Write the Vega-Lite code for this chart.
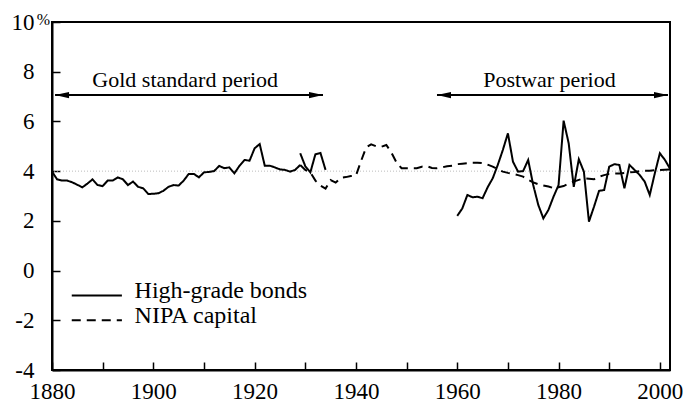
{
  "$schema": "https://vega.github.io/schema/vega-lite/v6.json",
  "width": 618,
  "height": 348,
  "autosize": {"type": "none"},
  "padding": {"left": 52, "top": 22, "right": 16, "bottom": 32},
  "config": {
    "font": "Liberation Serif",
    "view": {"stroke": "black", "strokeWidth": 2},
    "axis": {
      "domainColor": "black", "domainWidth": 2, "tickColor": "black", "tickWidth": 1.5,
      "tickSize": -8, "labelColor": "black", "labelFont": "Liberation Serif", "labelFontSize": 23,
      "grid": false, "title": null
    }
  },
  "datasets": {
    "lines": [
      {"year":1880,"value":3.98,"series":"A","kind":"bonds"},{"year":1881,"value":3.67,"series":"A","kind":"bonds"},{"year":1882,"value":3.62,"series":"A","kind":"bonds"},{"year":1883,"value":3.62,"series":"A","kind":"bonds"},{"year":1884,"value":3.55,"series":"A","kind":"bonds"},{"year":1885,"value":3.45,"series":"A","kind":"bonds"},{"year":1886,"value":3.35,"series":"A","kind":"bonds"},{"year":1887,"value":3.5,"series":"A","kind":"bonds"},{"year":1888,"value":3.67,"series":"A","kind":"bonds"},{"year":1889,"value":3.44,"series":"A","kind":"bonds"},
      {"year":1890,"value":3.4,"series":"A","kind":"bonds"},{"year":1891,"value":3.62,"series":"A","kind":"bonds"},{"year":1892,"value":3.62,"series":"A","kind":"bonds"},{"year":1893,"value":3.75,"series":"A","kind":"bonds"},{"year":1894,"value":3.67,"series":"A","kind":"bonds"},{"year":1895,"value":3.44,"series":"A","kind":"bonds"},{"year":1896,"value":3.58,"series":"A","kind":"bonds"},{"year":1897,"value":3.37,"series":"A","kind":"bonds"},{"year":1898,"value":3.31,"series":"A","kind":"bonds"},{"year":1899,"value":3.08,"series":"A","kind":"bonds"},
      {"year":1900,"value":3.09,"series":"A","kind":"bonds"},{"year":1901,"value":3.11,"series":"A","kind":"bonds"},{"year":1902,"value":3.21,"series":"A","kind":"bonds"},{"year":1903,"value":3.37,"series":"A","kind":"bonds"},{"year":1904,"value":3.44,"series":"A","kind":"bonds"},{"year":1905,"value":3.42,"series":"A","kind":"bonds"},{"year":1906,"value":3.62,"series":"A","kind":"bonds"},{"year":1907,"value":3.89,"series":"A","kind":"bonds"},{"year":1908,"value":3.89,"series":"A","kind":"bonds"},{"year":1909,"value":3.75,"series":"A","kind":"bonds"},
      {"year":1910,"value":3.95,"series":"A","kind":"bonds"},{"year":1911,"value":3.97,"series":"A","kind":"bonds"},{"year":1912,"value":4.0,"series":"A","kind":"bonds"},{"year":1913,"value":4.21,"series":"A","kind":"bonds"},{"year":1914,"value":4.12,"series":"A","kind":"bonds"},{"year":1915,"value":4.15,"series":"A","kind":"bonds"},{"year":1916,"value":3.91,"series":"A","kind":"bonds"},{"year":1917,"value":4.21,"series":"A","kind":"bonds"},{"year":1918,"value":4.45,"series":"A","kind":"bonds"},{"year":1919,"value":4.42,"series":"A","kind":"bonds"},
      {"year":1920,"value":4.92,"series":"A","kind":"bonds"},{"year":1921,"value":5.09,"series":"A","kind":"bonds"},{"year":1922,"value":4.22,"series":"A","kind":"bonds"},{"year":1923,"value":4.22,"series":"A","kind":"bonds"},{"year":1924,"value":4.15,"series":"A","kind":"bonds"},{"year":1925,"value":4.07,"series":"A","kind":"bonds"},{"year":1926,"value":4.05,"series":"A","kind":"bonds"},{"year":1927,"value":3.98,"series":"A","kind":"bonds"},{"year":1928,"value":4.05,"series":"A","kind":"bonds"},{"year":1929,"value":4.25,"series":"A","kind":"bonds"},
      {"year":1929,"value":4.72,"series":"B","kind":"bonds"},{"year":1930,"value":4.2,"series":"B","kind":"bonds"},{"year":1931,"value":3.95,"series":"B","kind":"bonds"},{"year":1932,"value":4.68,"series":"B","kind":"bonds"},{"year":1933,"value":4.73,"series":"B","kind":"bonds"},{"year":1934,"value":4.05,"series":"B","kind":"bonds"},
      {"year":1960,"value":2.2,"series":"C","kind":"bonds"},{"year":1961,"value":2.5,"series":"C","kind":"bonds"},{"year":1962,"value":3.04,"series":"C","kind":"bonds"},{"year":1963,"value":2.95,"series":"C","kind":"bonds"},{"year":1964,"value":2.97,"series":"C","kind":"bonds"},{"year":1965,"value":2.91,"series":"C","kind":"bonds"},{"year":1966,"value":3.35,"series":"C","kind":"bonds"},{"year":1967,"value":3.71,"series":"C","kind":"bonds"},{"year":1968,"value":4.25,"series":"C","kind":"bonds"},{"year":1969,"value":4.85,"series":"C","kind":"bonds"},
      {"year":1970,"value":5.52,"series":"C","kind":"bonds"},{"year":1971,"value":4.38,"series":"C","kind":"bonds"},{"year":1972,"value":3.98,"series":"C","kind":"bonds"},{"year":1973,"value":4.0,"series":"C","kind":"bonds"},{"year":1974,"value":4.45,"series":"C","kind":"bonds"},{"year":1975,"value":3.44,"series":"C","kind":"bonds"},{"year":1976,"value":2.64,"series":"C","kind":"bonds"},{"year":1977,"value":2.1,"series":"C","kind":"bonds"},{"year":1978,"value":2.44,"series":"C","kind":"bonds"},{"year":1979,"value":2.97,"series":"C","kind":"bonds"},
      {"year":1980,"value":3.44,"series":"C","kind":"bonds"},{"year":1981,"value":6.03,"series":"C","kind":"bonds"},{"year":1982,"value":5.12,"series":"C","kind":"bonds"},{"year":1983,"value":3.37,"series":"C","kind":"bonds"},{"year":1984,"value":4.48,"series":"C","kind":"bonds"},{"year":1985,"value":3.98,"series":"C","kind":"bonds"},{"year":1986,"value":1.97,"series":"C","kind":"bonds"},{"year":1987,"value":2.57,"series":"C","kind":"bonds"},{"year":1988,"value":3.21,"series":"C","kind":"bonds"},{"year":1989,"value":3.24,"series":"C","kind":"bonds"},
      {"year":1990,"value":4.18,"series":"C","kind":"bonds"},{"year":1991,"value":4.28,"series":"C","kind":"bonds"},{"year":1992,"value":4.25,"series":"C","kind":"bonds"},{"year":1993,"value":3.31,"series":"C","kind":"bonds"},{"year":1994,"value":4.25,"series":"C","kind":"bonds"},{"year":1995,"value":4.05,"series":"C","kind":"bonds"},{"year":1996,"value":3.85,"series":"C","kind":"bonds"},{"year":1997,"value":3.58,"series":"C","kind":"bonds"},{"year":1998,"value":3.04,"series":"C","kind":"bonds"},{"year":1999,"value":3.91,"series":"C","kind":"bonds"},
      {"year":2000,"value":4.72,"series":"C","kind":"bonds"},{"year":2001,"value":4.45,"series":"C","kind":"bonds"},{"year":2002,"value":4.1,"series":"C","kind":"bonds"},
      {"year":1929,"value":4.25,"series":"N","kind":"nipa"},{"year":1930,"value":4.05,"series":"N","kind":"nipa"},{"year":1931,"value":3.95,"series":"N","kind":"nipa"},{"year":1932,"value":3.62,"series":"N","kind":"nipa"},{"year":1933,"value":3.42,"series":"N","kind":"nipa"},{"year":1934,"value":3.3,"series":"N","kind":"nipa"},{"year":1935,"value":3.64,"series":"N","kind":"nipa"},{"year":1936,"value":3.54,"series":"N","kind":"nipa"},{"year":1937,"value":3.73,"series":"N","kind":"nipa"},{"year":1938,"value":3.76,"series":"N","kind":"nipa"},{"year":1939,"value":3.8,"series":"N","kind":"nipa"},
      {"year":1940,"value":3.82,"series":"N","kind":"nipa"},{"year":1941,"value":4.4,"series":"N","kind":"nipa"},{"year":1942,"value":4.95,"series":"N","kind":"nipa"},{"year":1943,"value":5.08,"series":"N","kind":"nipa"},{"year":1944,"value":5.0,"series":"N","kind":"nipa"},{"year":1945,"value":4.98,"series":"N","kind":"nipa"},{"year":1946,"value":5.05,"series":"N","kind":"nipa"},{"year":1947,"value":4.75,"series":"N","kind":"nipa"},{"year":1948,"value":4.35,"series":"N","kind":"nipa"},{"year":1949,"value":4.12,"series":"N","kind":"nipa"},
      {"year":1950,"value":4.12,"series":"N","kind":"nipa"},{"year":1951,"value":4.12,"series":"N","kind":"nipa"},{"year":1952,"value":4.12,"series":"N","kind":"nipa"},{"year":1953,"value":4.18,"series":"N","kind":"nipa"},{"year":1954,"value":4.2,"series":"N","kind":"nipa"},{"year":1955,"value":4.13,"series":"N","kind":"nipa"},{"year":1956,"value":4.12,"series":"N","kind":"nipa"},{"year":1957,"value":4.15,"series":"N","kind":"nipa"},{"year":1958,"value":4.2,"series":"N","kind":"nipa"},{"year":1959,"value":4.22,"series":"N","kind":"nipa"},
      {"year":1960,"value":4.28,"series":"N","kind":"nipa"},{"year":1961,"value":4.3,"series":"N","kind":"nipa"},{"year":1962,"value":4.32,"series":"N","kind":"nipa"},{"year":1963,"value":4.34,"series":"N","kind":"nipa"},{"year":1964,"value":4.34,"series":"N","kind":"nipa"},{"year":1965,"value":4.32,"series":"N","kind":"nipa"},{"year":1966,"value":4.26,"series":"N","kind":"nipa"},{"year":1967,"value":4.18,"series":"N","kind":"nipa"},{"year":1968,"value":4.08,"series":"N","kind":"nipa"},{"year":1969,"value":3.98,"series":"N","kind":"nipa"},
      {"year":1970,"value":3.93,"series":"N","kind":"nipa"},{"year":1971,"value":3.89,"series":"N","kind":"nipa"},{"year":1972,"value":3.84,"series":"N","kind":"nipa"},{"year":1973,"value":3.78,"series":"N","kind":"nipa"},{"year":1974,"value":3.65,"series":"N","kind":"nipa"},{"year":1975,"value":3.55,"series":"N","kind":"nipa"},{"year":1976,"value":3.47,"series":"N","kind":"nipa"},{"year":1977,"value":3.42,"series":"N","kind":"nipa"},{"year":1978,"value":3.38,"series":"N","kind":"nipa"},{"year":1979,"value":3.32,"series":"N","kind":"nipa"},
      {"year":1980,"value":3.35,"series":"N","kind":"nipa"},{"year":1981,"value":3.4,"series":"N","kind":"nipa"},{"year":1982,"value":3.5,"series":"N","kind":"nipa"},{"year":1983,"value":3.58,"series":"N","kind":"nipa"},{"year":1984,"value":3.65,"series":"N","kind":"nipa"},{"year":1985,"value":3.71,"series":"N","kind":"nipa"},{"year":1986,"value":3.69,"series":"N","kind":"nipa"},{"year":1987,"value":3.67,"series":"N","kind":"nipa"},{"year":1988,"value":3.78,"series":"N","kind":"nipa"},{"year":1989,"value":3.84,"series":"N","kind":"nipa"},
      {"year":1990,"value":3.89,"series":"N","kind":"nipa"},{"year":1991,"value":3.9,"series":"N","kind":"nipa"},{"year":1992,"value":3.91,"series":"N","kind":"nipa"},{"year":1993,"value":3.93,"series":"N","kind":"nipa"},{"year":1994,"value":3.95,"series":"N","kind":"nipa"},{"year":1995,"value":3.97,"series":"N","kind":"nipa"},{"year":1996,"value":4.0,"series":"N","kind":"nipa"},{"year":1997,"value":4.01,"series":"N","kind":"nipa"},{"year":1998,"value":4.02,"series":"N","kind":"nipa"},{"year":1999,"value":4.04,"series":"N","kind":"nipa"},
      {"year":2000,"value":4.05,"series":"N","kind":"nipa"},{"year":2001,"value":4.06,"series":"N","kind":"nipa"},{"year":2002,"value":4.07,"series":"N","kind":"nipa"}
    ],
    "arrows": [
      {"x1": 1880.6, "x2": 1933.5, "y": 7.06, "label": "Gold standard period", "mid": 1906.3},
      {"x1": 1956.0, "x2": 2001.6, "y": 7.06, "label": "Postwar period", "mid": 1978.2}
    ],
    "legend": [
      {"x1": 1883.9, "x2": 1893.8, "tx": 1896.3, "y": -1, "label": "High-grade bonds", "kind": "bonds"},
      {"x1": 1883.9, "x2": 1893.8, "tx": 1896.3, "y": -2, "label": "NIPA capital", "kind": "nipa"}
    ],
    "ref": [{"y": 4}],
    "pct": [{"x": 1880, "y": 10, "t": "%"}]
  },
  "layer": [
    {
      "data": {"name": "ref"},
      "mark": {"type": "rule", "color": "#bdbdbd", "strokeWidth": 1, "strokeDash": [1, 2]},
      "encoding": {"y": {"field": "y", "type": "quantitative"}}
    },
    {
      "data": {"name": "lines"},
      "mark": {"type": "line", "color": "black", "strokeWidth": 2, "clip": true},
      "encoding": {
        "x": {
          "field": "year", "type": "quantitative",
          "scale": {"domain": [1880, 2002], "nice": false, "zero": false},
          "axis": {
            "values": [1880, 1890, 1900, 1910, 1920, 1930, 1940, 1950, 1960, 1970, 1980, 1990, 2000],
            "labelExpr": "datum.value % 20 == 0 ? '' + datum.value : ''",
            "labelPadding": 18, "labelFlush": false, "labelOverlap": false
          }
        },
        "y": {
          "field": "value", "type": "quantitative",
          "scale": {"domain": [-4, 10], "nice": false, "zero": false},
          "axis": {"values": [-4, -2, 0, 2, 4, 6, 8, 10], "labelExpr": "'' + datum.value", "labelPadding": 26, "labelFlush": false, "labelOverlap": false}
        },
        "detail": {"field": "series", "type": "nominal"},
        "strokeDash": {
          "field": "kind", "type": "nominal",
          "scale": {"domain": ["bonds", "nipa"], "range": [[1, 0], [9, 6]]},
          "legend": null
        }
      }
    },
    {
      "data": {"name": "arrows"},
      "mark": {"type": "rule", "color": "black", "strokeWidth": 2},
      "encoding": {
        "x": {"field": "x1", "type": "quantitative"},
        "x2": {"field": "x2"},
        "y": {"field": "y", "type": "quantitative"}
      }
    },
    {
      "data": {"name": "arrows"},
      "mark": {"type": "point", "shape": "M0,0L2,-0.45L2,0.45Z", "filled": true, "color": "black", "size": 196, "opacity": 1},
      "encoding": {
        "x": {"field": "x1", "type": "quantitative"},
        "y": {"field": "y", "type": "quantitative"}
      }
    },
    {
      "data": {"name": "arrows"},
      "mark": {"type": "point", "shape": "M0,0L-2,-0.45L-2,0.45Z", "filled": true, "color": "black", "size": 196, "opacity": 1},
      "encoding": {
        "x": {"field": "x2", "type": "quantitative"},
        "y": {"field": "y", "type": "quantitative"}
      }
    },
    {
      "data": {"name": "arrows"},
      "mark": {"type": "text", "font": "Liberation Serif", "fontSize": 22, "color": "black", "align": "center", "baseline": "alphabetic", "dy": -8},
      "encoding": {
        "x": {"field": "mid", "type": "quantitative"},
        "y": {"field": "y", "type": "quantitative"},
        "text": {"field": "label"}
      }
    },
    {
      "data": {"name": "legend"},
      "mark": {"type": "rule", "color": "black", "strokeWidth": 2},
      "encoding": {
        "x": {"field": "x1", "type": "quantitative"},
        "x2": {"field": "x2"},
        "y": {"field": "y", "type": "quantitative"},
        "strokeDash": {
          "field": "kind", "type": "nominal",
          "scale": {"domain": ["bonds", "nipa"], "range": [[1, 0], [10, 8]]},
          "legend": null
        }
      }
    },
    {
      "data": {"name": "legend"},
      "mark": {"type": "text", "font": "Liberation Serif", "fontSize": 24, "color": "black", "align": "left", "baseline": "alphabetic", "dy": 3},
      "encoding": {
        "x": {"field": "tx", "type": "quantitative"},
        "y": {"field": "y", "type": "quantitative"},
        "text": {"field": "label"}
      }
    },
    {
      "data": {"name": "pct"},
      "mark": {"type": "text", "font": "Liberation Serif", "fontSize": 16, "color": "black", "align": "right", "baseline": "alphabetic", "dx": -2, "dy": 3},
      "encoding": {
        "x": {"field": "x", "type": "quantitative"},
        "y": {"field": "y", "type": "quantitative"},
        "text": {"field": "t"}
      }
    }
  ]
}
